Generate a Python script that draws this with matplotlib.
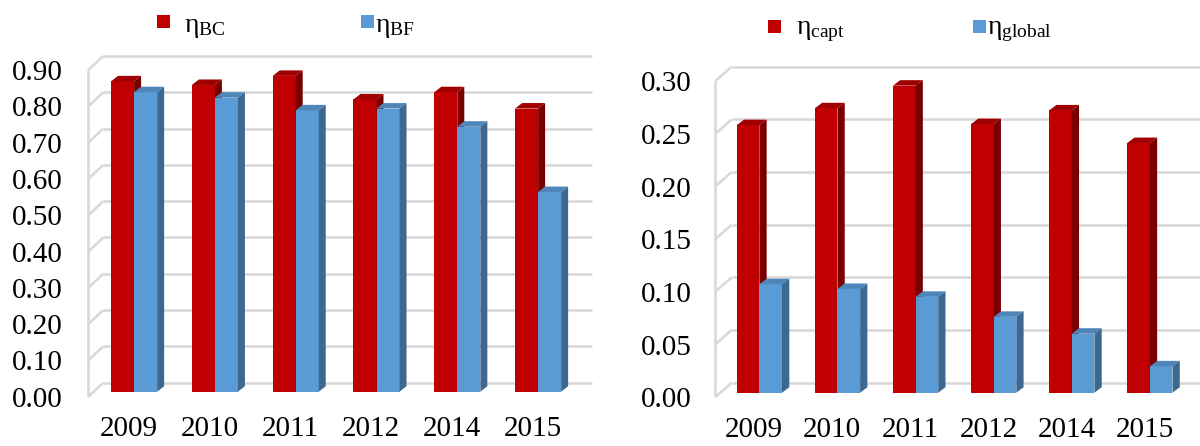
import matplotlib
matplotlib.use('Agg')
import matplotlib.pyplot as plt
from matplotlib.patches import Polygon, Rectangle

W, H = 1200, 446  # размер картинки в пикселях

# Данные
years = ['2009', '2010', '2011', '2012', '2014', '2015']
eta_bc = [0.855, 0.845, 0.87, 0.805, 0.825, 0.78]
eta_bf = [0.825, 0.81, 0.775, 0.78, 0.73, 0.55]
eta_capt = [0.254, 0.270, 0.2915, 0.255, 0.268, 0.237]
eta_global = [0.103, 0.0985, 0.091, 0.072, 0.056, 0.025]
ticks_left = [0.0, 0.1, 0.2, 0.3, 0.4, 0.5, 0.6, 0.7, 0.8, 0.9]
ticks_right = [0.0, 0.05, 0.10, 0.15, 0.20, 0.25, 0.30]

RED = ('#C00000', '#A00000', '#7A0000')   # фронт, верх, бок
BLUE = ('#5B9BD5', '#4E86BA', '#3D6891')
GRID = '#D9D9D9'

plt.rcParams['font.family'] = ['Liberation Serif', 'DejaVu Serif']
plt.rcParams['mathtext.fontset'] = 'custom'
plt.rcParams['mathtext.rm'] = 'Liberation Serif'

fig = plt.figure(figsize=(W / 100, H / 100), dpi=100)


# Псевдо-3D панель со столбиками
def panel(left_px, floor_px, step_px, unit_px, xmax, ymax, ticks, fmt,
          series, wall, bar_off, bar_depth, width, ypad, xpad):
    xmin = -0.5
    w_px = (xmax - xmin) * step_px
    h_px = ymax * unit_px
    ax = fig.add_axes([left_px / W, (H - floor_px) / H, w_px / W, h_px / H])
    ax.set_xlim(xmin, xmax)
    ax.set_ylim(0, ymax)
    ax.patch.set_visible(False)
    for s in ax.spines.values():
        s.set_visible(False)

    # стенки и сетка
    wx, wy = wall[0] / step_px, wall[1] / unit_px
    kw = dict(color=GRID, lw=1.9, clip_on=False, zorder=1, solid_capstyle='butt')
    for t in ticks:
        ax.plot([xmin + wx, xmax + wx], [t + wy, t + wy], **kw)
        ax.plot([xmin, xmin + wx], [t, t + wy], **kw)
    ax.plot([xmin, xmin], [0, ticks[-1]], **kw)

    # столбики
    ox, oy = bar_off[0] / step_px, bar_off[1] / unit_px
    dx, dy = bar_depth[0] / step_px, bar_depth[1] / unit_px
    for k, (vals, col) in enumerate(series):
        z = 2 + k
        xs = [i - width + k * width + ox for i in range(len(vals))]
        ax.bar(xs, vals, width=width, bottom=oy, align='edge', color=col[0],
               linewidth=0, zorder=z)
        for x0, v in zip(xs, vals):
            x1 = x0 + width
            y1 = v + oy
            ax.add_patch(Polygon([(x0, y1), (x1, y1), (x1 + dx, y1 + dy), (x0 + dx, y1 + dy)],
                                 closed=True, fc=col[1], lw=0, zorder=z))
            ax.add_patch(Polygon([(x1, oy), (x1, y1), (x1 + dx, y1 + dy), (x1 + dx, oy + dy)],
                                 closed=True, fc=col[2], lw=0, zorder=z))

    ax.set_yticks(ticks, [fmt % t for t in ticks])
    ax.set_xticks(range(len(years)), years)
    ax.tick_params(axis='y', length=0, pad=ypad, labelsize=21)
    ax.tick_params(axis='x', length=0, pad=xpad, labelsize=21)
    return ax


panel(88.3, 396.7, 80.8, 363.0, 5.55, 1.0, ticks_left, '%.2f',
      [(eta_bc, RED), (eta_bf, BLUE)], (15, 14), (5.4, 5), (7, 5.5), 0.285,
      18.7, 14)
panel(715, 397.3, 78.1, 1053.3, 5.5, 0.33, ticks_right, '%.2f',
      [(eta_capt, RED), (eta_global, BLUE)], (16.7, 14.6), (5.3, 4.6), (7.3, 5.5), 0.29,
      16.6, 14.5)


# Легенды
def legend_item(sq_x, sq_y, txt_x, base_y, color, label):
    fig.add_artist(Rectangle((sq_x / W, 1 - (sq_y + 13) / H), 13 / W, 13 / H,
                             transform=fig.transFigure, fc=color, lw=0))
    fig.text(txt_x / W, 1 - base_y / H, label, fontsize=20, va='baseline', ha='left')


legend_item(157, 15, 184, 32, RED[0], r'$\mathregular{η_{BC}}$')
legend_item(361, 15, 375, 32, BLUE[0], r'$\mathregular{η_{BF}}$')
legend_item(768, 20, 796, 34, RED[0], r'$\mathregular{η_{capt}}$')
legend_item(973, 20, 987, 34, BLUE[0], r'$\mathregular{η_{global}}$')

fig.savefig('out.png', dpi=100)
